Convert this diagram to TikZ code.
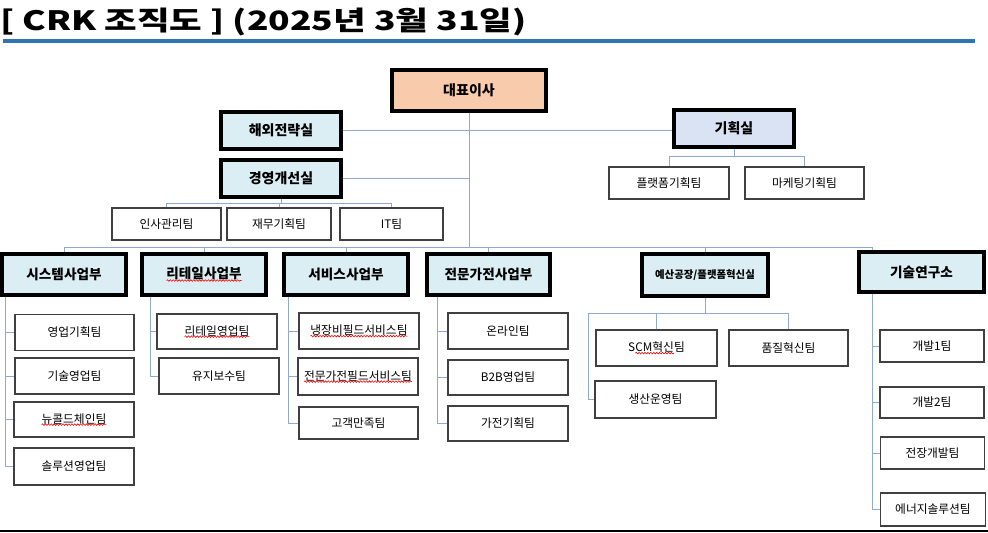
\documentclass[tikz,border=0pt]{standalone}
\usepackage{fontspec}
\setmainfont{Noto Sans CJK KR}
\usetikzlibrary{calc,decorations.pathmorphing}
\definecolor{ceofill}{HTML}{F8CBAD}
\definecolor{deptfill}{HTML}{DAEEF3}
\definecolor{planfill}{HTML}{DAE3F3}
\definecolor{linkline}{HTML}{8FAACC}
\definecolor{rulerblue}{HTML}{2E75B6}
\definecolor{teamedge}{HTML}{404040}
\newcommand\spellchk[1]{\tikz[baseline=(sp.base)]{\node[inner sep=0, outer sep=0, minimum width=0pt, minimum height=0pt, draw=none, fill=none] (sp) {#1};
	\draw[red, line width=0.45pt, decorate, decoration={snake, amplitude=0.6pt, segment length=2.2pt}] ([yshift=-1.2pt]sp.base west) -- ([yshift=-1.2pt]sp.base east);}}
\begin{document}
\begin{tikzpicture}[x=0.75pt, y=-0.75pt,
		sz/.style 2 args={minimum width=#1*0.75pt, minimum height=#2*0.75pt},
		head/.style={draw, line width=2.4pt, inner sep=0, fill=deptfill},
		ceo/.style={head, fill=ceofill, font=\bfseries\fontsize{10.5}{12}\selectfont},
		office/.style={head, font=\bfseries\fontsize{10.5}{12}\selectfont},
		dept/.style={head, font=\bfseries\fontsize{10.2}{12}\selectfont},
		team/.style={draw=teamedge, line width=0.9pt, inner sep=0, fill=white, font=\fontsize{8.8}{10}\selectfont},
		link/.style={draw=linkline, line width=0.75pt}]
	\useasboundingbox (0,0) rectangle (988,532);
	\node[anchor=west, inner sep=0, font=\bfseries\fontsize{20}{24}\selectfont] (title) at (0,22) {\scalebox{1.33}[1]{[ CRK 조직도 ] (2025년 3월 31일)}};
	\draw[rulerblue, line width=2.4pt] (3,41) -- (975,41);
	\draw[line width=1.5pt] (0,530.5) -- (988,530.5);

	\node[ceo, sz={154}{41}] (ceo) at (469,90.5) {대표이사};
	\node[office, sz={120}{37}] (overseas) at (281,130.5) {해외전략실};
	\node[office, fill=planfill, sz={120}{37}] (planning) at (734,128.5) {기획실};
	\node[office, sz={120}{37}] (mgmt) at (281,178.5) {경영개선실};
	\node[team, sz={120}{32}] (platform) at (669,183) {플랫폼기획팀};
	\node[team, sz={119}{32}] (marketing) at (804.5,183) {마케팅기획팀};
	\node[team, sz={109}{32}] (hr) at (166.5,224) {인사관리팀};
	\node[team, sz={104}{32}] (finance) at (279,224) {재무기획팀};
	\node[team, sz={103}{32}] (it) at (391.5,224) {IT팀};

	\node[dept, sz={124}{41}] (sys) at (64,274.5) {시스템사업부};
	\node[dept, sz={124}{41}] (retail) at (204,274.5) {\spellchk{리테일사업부}};
	\node[dept, sz={124}{41}] (service) at (346,274.5) {서비스사업부};
	\node[dept, sz={123}{41}] (appliance) at (488.5,274.5) {전문가전사업부};
	\node[dept, sz={126}{42}, font=\bfseries\fontsize{7.8}{9}\selectfont] (factory) at (705,275) {예산공장/플랫폼혁신실};
	\node[dept, sz={125}{40}] (lab) at (921.5,272) {기술연구소};

	\node[team, sz={119}{36}] (sys1) at (74.5,332.5) {영업기획팀};
	\node[team, sz={119}{36}] (sys2) at (74.5,376) {기술영업팀};
	\node[team, sz={120}{35}] (sys3) at (74,419.5) {\spellchk{뉴콜드체인팀}};
	\node[team, sz={120}{37}] (sys4) at (74,466.5) {솔루션영업팀};
	\node[team, sz={120}{35}] (ret1) at (217,331.5) {\spellchk{리테일영업팀}};
	\node[team, sz={120}{36}] (ret2) at (219,376) {유지보수팀};
	\node[team, sz={120}{36}] (svc1) at (359,331) {\spellchk{냉장비필드서비스팀}};
	\node[team, sz={120}{37}] (svc2) at (358,376.5) {\spellchk{전문가전필드서비스팀}};
	\node[team, sz={119}{32}] (svc3) at (358.5,423) {고객만족팀};
	\node[team, sz={120}{36}] (app1) at (508,331) {온라인팀};
	\node[team, sz={120}{35}] (app2) at (508,377.5) {B2B영업팀};
	\node[team, sz={120}{35}] (app3) at (508,423.5) {가전기획팀};
	\node[team, sz={121}{36}] (fac1) at (656.5,348) {S\spellchk{CM혁신}팀};
	\node[team, sz={119}{36}] (fac2) at (788.5,348) {품질혁신팀};
	\node[team, sz={121}{37}] (fac3) at (655.5,399.5) {생산운영팀};
	\node[team, sz={104}{32}] (lab1) at (932,346) {개발1팀};
	\node[team, sz={104}{31}] (lab2) at (932,402.5) {개발2팀};
	\node[team, sz={104}{32}] (lab3) at (932.5,453) {전장개발팀};
	\node[team, sz={105}{33}] (lab4) at (933,509.5) {에너지솔루션팀};

	\coordinate (busL) at (64,247);
	\coordinate (busR) at (872,247);
	\draw[link] (ceo.south) -- (ceo.south |- busL);
	\draw[link] (busL) -- (busR);
	\foreach \d in {sys,retail,service,appliance,factory}
		\draw[link] (\d.north) -- (\d.north |- busL);
	\draw[link] (busR) -- (busR |- lab.north);
	\draw[link] (overseas.east) -- (overseas.east -| planning.west);
	\draw[link] (mgmt.east) -- (mgmt.east -| ceo.south);

	\draw[link] (planning.south) -- ++(0,8) coordinate (planj);
	\draw[link] (platform.north) |- (planj) -| (marketing.north);
	\draw[link] (mgmt.south) -- ++(0,5) coordinate (mgmtj);
	\draw[link] (hr.north) |- (mgmtj) -| (it.north);
	\draw[link] (finance.north) -- (finance.north |- mgmtj);

	\path (sys.south west) ++(5,0) coordinate (sysspine);
	\draw[link] (sysspine) |- (sys4.west);
	\foreach \t in {sys1,sys2,sys3}
		\draw[link] (sysspine |- \t.west) -- (\t.west);
	\path (retail.south west) ++(10,0) coordinate (retspine);
	\draw[link] (retspine) |- (ret2.west);
	\draw[link] (retspine |- ret1.west) -- (ret1.west);
	\path (service.south west) ++(6,0) coordinate (svcspine);
	\draw[link] (svcspine) |- (svc3.west);
	\foreach \t in {svc1,svc2}
		\draw[link] (svcspine |- \t.west) -- (\t.west);
	\path (appliance.south west) ++(12,0) coordinate (appspine);
	\draw[link] (appspine) |- (app3.west);
	\foreach \t in {app1,app2}
		\draw[link] (appspine |- \t.west) -- (\t.west);
	\coordinate (labspine) at (busR |- lab.south);
	\draw[link] (labspine) |- (lab4.west);
	\foreach \t in {lab1,lab2,lab3}
		\draw[link] (labspine |- \t.west) -- (\t.west);

	\draw[link] (factory.south) -- ++(0,16) coordinate (facj);
	\draw[link] (fac1.north) |- (facj) -| (fac2.north);
	\draw[link] (facj) -| ($(fac3.west)+(-6,0)$) -- (fac3.west);
\end{tikzpicture}
\end{document}
